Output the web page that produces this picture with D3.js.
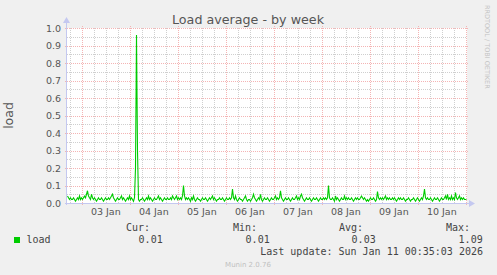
<!DOCTYPE html>
<html>
<head>
<meta charset="utf-8">
<script src="https://cdn.jsdelivr.net/npm/d3@7"></script>
<style>
  body { margin: 0; background: #f0f0f0; }
  svg { display: block; }
  .tick-label { font-family: "DejaVu Sans"; font-size: 9.5px; fill: #555; }
  .legend { font-family: "DejaVu Sans Mono"; font-size: 10px; fill: #444; }
</style>
</head>
<body>
<svg class="graph"></svg>
<script>
// load average, one value per 30 minutes, from Jan 2 16:35 to Jan 11 00:35
var load = [
  0.04,0.03,0.02,0.03,0.02,0.02,0.03,0.02,0.01,0.02,0.03,0.02,0.04,0.02,0.03,0.02,0.03,0.04,0.03,0.05,
  0.07,0.04,0.03,0.02,0.05,0.03,0.02,0.03,0.02,0.01,0.02,0.03,0.02,0.02,0.03,0.02,0.01,0.02,0.03,0.02,
  0.02,0.03,0.02,0.03,0.04,0.05,0.03,0.02,0.01,0.02,0.03,0.02,0.02,0.03,0.04,0.02,0.03,0.02,0.01,0.02,
  0.03,0.02,0.04,0.02,0.03,0.02,0.01,0.03,0.20,0.96,0.30,0.02,0.01,0.02,0.02,0.03,0.02,0.01,0.02,0.03,
  0.02,0.04,0.02,0.03,0.02,0.01,0.02,0.03,0.02,0.02,0.03,0.04,0.02,0.03,0.02,0.01,0.02,0.03,0.02,0.02,
  0.03,0.02,0.02,0.03,0.02,0.04,0.03,0.02,0.03,0.04,0.02,0.03,0.02,0.03,0.02,0.04,0.10,0.04,0.02,0.03,
  0.02,0.03,0.02,0.01,0.03,0.02,0.04,0.02,0.01,0.02,0.03,0.02,0.02,0.01,0.02,0.03,0.02,0.02,0.03,0.02,
  0.01,0.02,0.03,0.02,0.03,0.04,0.02,0.03,0.02,0.01,0.02,0.02,0.03,0.02,0.02,0.03,0.02,0.01,0.02,0.03,
  0.02,0.02,0.03,0.02,0.03,0.08,0.03,0.02,0.04,0.02,0.01,0.02,0.03,0.02,0.02,0.01,0.02,0.03,0.04,0.02,
  0.01,0.02,0.02,0.01,0.02,0.03,0.05,0.03,0.02,0.01,0.02,0.03,0.02,0.05,0.02,0.01,0.02,0.03,0.02,0.02,
  0.03,0.02,0.01,0.02,0.03,0.02,0.02,0.03,0.04,0.02,0.03,0.02,0.03,0.07,0.03,0.02,0.01,0.02,0.03,0.02,
  0.02,0.03,0.02,0.01,0.02,0.03,0.02,0.02,0.03,0.04,0.02,0.03,0.02,0.04,0.05,0.03,0.02,0.01,0.02,0.03,
  0.02,0.02,0.03,0.02,0.01,0.02,0.03,0.02,0.02,0.03,0.02,0.01,0.02,0.03,0.02,0.02,0.03,0.02,0.03,0.02,
  0.03,0.10,0.03,0.02,0.02,0.03,0.02,0.01,0.04,0.02,0.03,0.02,0.01,0.02,0.03,0.02,0.02,0.04,0.02,0.03,
  0.02,0.03,0.02,0.02,0.03,0.02,0.01,0.02,0.03,0.02,0.03,0.02,0.02,0.03,0.04,0.03,0.02,0.03,0.02,0.01,
  0.02,0.01,0.02,0.03,0.02,0.02,0.03,0.02,0.01,0.02,0.065,0.03,0.02,0.03,0.02,0.03,0.02,0.03,0.04,0.02,
  0.03,0.02,0.03,0.02,0.02,0.03,0.02,0.03,0.02,0.01,0.02,0.03,0.02,0.03,0.02,0.02,0.03,0.02,0.01,0.02,
  0.02,0.03,0.02,0.01,0.02,0.02,0.03,0.02,0.01,0.02,0.03,0.02,0.01,0.02,0.03,0.02,0.04,0.08,0.03,0.02,
  0.03,0.02,0.02,0.03,0.02,0.01,0.02,0.03,0.02,0.02,0.03,0.02,0.01,0.02,0.03,0.02,0.02,0.03,0.04,0.02,
  0.05,0.02,0.03,0.02,0.04,0.02,0.03,0.02,0.06,0.03,0.02,0.03,0.04,0.02,0.03,0.02,0.03,0.02,0.02,0.02
];

var yTicks = [0.0, 0.1, 0.2, 0.3, 0.4, 0.5, 0.6, 0.7, 0.8, 0.9, 1.0];
var legendHeads = ["Cur:", "Min:", "Avg:", "Max:"];
var legendValues = ["0.01", "0.01", "0.03", "1.09"];
var lastUpdate = "Last update: Sun Jan 11 00:35:03 2026";

var width = 497, height = 275;
var plotLeft = 67, plotRight = 467, plotTop = 28, plotBottom = 203;
var step = 1800 * 1000;
var end = Date.UTC(2026, 0, 11, 0, 35, 3);
var start = end - load.length * step;

var svg = d3.select(".graph")
    .attr("width", width)
    .attr("height", height);

svg.append("rect")
    .attr("width", width)
    .attr("height", height)
    .attr("fill", "#f0f0f0");

svg.append("rect")
    .attr("x", plotLeft)
    .attr("y", plotTop)
    .attr("width", plotRight - plotLeft)
    .attr("height", plotBottom - plotTop)
    .attr("fill", "#ffffff");

var x = d3.scaleUtc()
    .domain([start, end])
    .range([plotLeft, plotRight]);

var y = d3.scaleLinear()
    .domain([0, 1])
    .range([plotBottom, plotTop]);

// minor grid: every 6 hours / 0.05
var minorX = d3.utcHour.every(6).range(new Date(start), new Date(end));
var majorX = d3.utcDay.range(new Date(start), new Date(end));
var minorY = d3.range(0.05, 1.0, 0.1);

svg.append("g").selectAll("line")
    .data(minorX)
  .enter().append("line")
    .attr("x1", function(d) { return Math.round(x(d)) + 0.5; })
    .attr("x2", function(d) { return Math.round(x(d)) + 0.5; })
    .attr("y1", plotTop)
    .attr("y2", plotBottom)
    .attr("stroke", "#cfcfcf")
    .attr("stroke-dasharray", "1,1");

svg.append("g").selectAll("line")
    .data(minorY)
  .enter().append("line")
    .attr("x1", plotLeft)
    .attr("x2", plotRight)
    .attr("y1", function(d) { return Math.round(y(d)) + 0.5; })
    .attr("y2", function(d) { return Math.round(y(d)) + 0.5; })
    .attr("stroke", "#cfcfcf")
    .attr("stroke-dasharray", "1,1");

svg.append("g").selectAll("line")
    .data(majorX)
  .enter().append("line")
    .attr("x1", function(d) { return Math.round(x(d)) + 0.5; })
    .attr("x2", function(d) { return Math.round(x(d)) + 0.5; })
    .attr("y1", plotTop - 2)
    .attr("y2", plotBottom + 2)
    .attr("stroke", "#f4b4b4")
    .attr("stroke-dasharray", "1,1");

svg.append("g").selectAll("line")
    .data(yTicks.slice(1))
  .enter().append("line")
    .attr("x1", plotLeft - 2)
    .attr("x2", plotRight + 1)
    .attr("y1", function(d) { return Math.round(y(d)) + 0.5; })
    .attr("y2", function(d) { return Math.round(y(d)) + 0.5; })
    .attr("stroke", "#f4b4b4")
    .attr("stroke-dasharray", "1,1");

// axis labels
svg.append("g").selectAll("text")
    .data(yTicks)
  .enter().append("text")
    .attr("class", "tick-label")
    .attr("x", plotLeft - 6)
    .attr("y", function(d) { return y(d) + 3.5; })
    .attr("text-anchor", "end")
    .text(function(d) { return d.toFixed(1); });

svg.append("g").selectAll("text")
    .data(majorX.map(function(d) { return new Date(+d + 12 * 3600 * 1000); })
      .filter(function(d) { return +d < end; }))
  .enter().append("text")
    .attr("class", "tick-label")
    .attr("x", function(d) { return x(d); })
    .attr("y", plotBottom + 12)
    .attr("text-anchor", "middle")
    .text(d3.utcFormat("%d %b"));

// the load line
var line = d3.line()
    .x(function(d, i) { return x(start + i * step) + 0.5; })
    .y(function(d) { return y(d); });

svg.append("path")
    .datum(load)
    .attr("d", line)
    .attr("fill", "none")
    .attr("stroke", "#00cc00")
    .attr("stroke-width", 1.1);

// axes with arrows
svg.append("line")
    .attr("x1", plotLeft - 0.5).attr("x2", plotLeft - 0.5)
    .attr("y1", plotBottom + 2).attr("y2", plotTop - 6)
    .attr("stroke", "#c4c8f0");
svg.append("line")
    .attr("x1", plotLeft - 2).attr("x2", plotRight + 4)
    .attr("y1", plotBottom + 0.5).attr("y2", plotBottom + 0.5)
    .attr("stroke", "#c4c8f0");
svg.append("path")
    .attr("d", "M" + (plotLeft - 4) + "," + (plotTop - 5) + "L" + (plotLeft + 3) + "," + (plotTop - 5) + "L" + (plotLeft - 0.5) + "," + (plotTop - 11) + "Z")
    .attr("fill", "#c4c8f0");
svg.append("path")
    .attr("d", "M" + (plotRight + 2) + "," + (plotBottom - 3) + "L" + (plotRight + 2) + "," + (plotBottom + 4) + "L" + (plotRight + 8) + "," + (plotBottom + 0.5) + "Z")
    .attr("fill", "#c4c8f0");

// title and labels
svg.append("text")
    .attr("x", 248)
    .attr("y", 24)
    .attr("text-anchor", "middle")
    .style("font-family", "DejaVu Sans")
    .style("font-size", "12.7px")
    .attr("fill", "#555")
    .text("Load average - by week");

svg.append("text")
    .attr("transform", "translate(13," + ((plotTop + plotBottom) / 2) + ") rotate(-90)")
    .attr("text-anchor", "middle")
    .style("font-family", "DejaVu Sans")
    .style("font-size", "12.5px")
    .attr("fill", "#555")
    .text("load");

svg.append("text")
    .attr("transform", "translate(485,5) rotate(90)")
    .style("font-family", "DejaVu Sans")
    .style("font-size", "6.5px")
    .attr("fill", "#c4c4c4")
    .text("RRDTOOL / TOBI OETIKER");

// legend
var cols = [150, 257, 363, 470];
svg.append("g").selectAll("text")
    .data(legendHeads)
  .enter().append("text")
    .attr("class", "legend")
    .attr("x", function(d, i) { return cols[i]; })
    .attr("y", 231)
    .attr("text-anchor", "end")
    .text(function(d) { return d; });

svg.append("g").selectAll("text")
    .data(legendValues)
  .enter().append("text")
    .attr("class", "legend")
    .attr("x", function(d, i) { return cols[i] + 12.7; })
    .attr("y", 243)
    .attr("text-anchor", "end")
    .text(function(d) { return d; });

svg.append("rect")
    .attr("x", 14)
    .attr("y", 237)
    .attr("width", 6)
    .attr("height", 6)
    .attr("fill", "#00cc00");

svg.append("text")
    .attr("class", "legend")
    .attr("x", 26.5)
    .attr("y", 243)
    .text("load");

svg.append("text")
    .attr("class", "legend")
    .attr("x", 483)
    .attr("y", 254.5)
    .attr("text-anchor", "end")
    .text(lastUpdate);

svg.append("text")
    .attr("x", 248)
    .attr("y", 266.5)
    .attr("text-anchor", "middle")
    .style("font-family", "DejaVu Sans")
    .style("font-size", "7px")
    .attr("fill", "#c0c0c0")
    .text("Munin 2.0.76");
</script>
</body>
</html>
